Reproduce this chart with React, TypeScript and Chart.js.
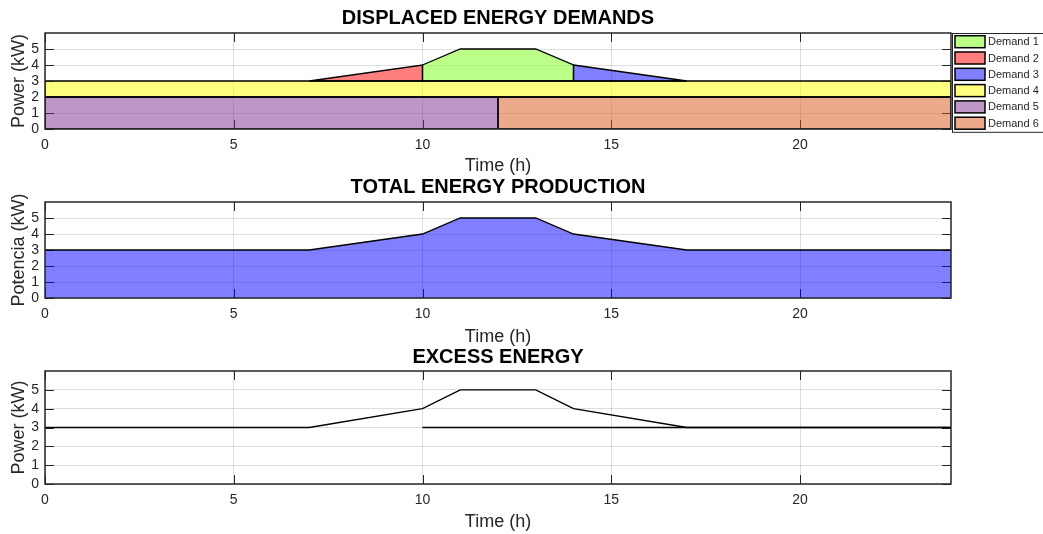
import { useEffect, useRef } from 'react';
import { Chart, registerables } from 'chart.js';

Chart.register(...registerables);

const FONT = '"Liberation Sans", Arial, Helvetica, sans-serif';
const INK = '#262626';
const GRID = 'rgba(0,0,0,0.13)';

// Axis ticks
const hourTicks = [0, 5, 10, 15, 20];
const powerTicks = [0, 1, 2, 3, 4, 5];
const hourRange = [0, 24];
const powerRange = [0, 6];

// Displaced demands: hours and the power (kW) each one adds on top of its stack level
const demandLabels = ['Demand 1', 'Demand 2', 'Demand 3', 'Demand 4', 'Demand 5', 'Demand 6'];
const demand1Hours = [10, 11, 13, 14];
const demand1Power = [1, 2, 2, 1];
const demand2Hours = [7, 10];
const demand2Power = [0, 1];
const demand3Hours = [14, 17];
const demand3Power = [1, 0];
const demand4Hours = [0, 24];
const demand4Power = [1, 1];
const demand5Hours = [0, 12];
const demand5Power = [2, 2];
const demand6Hours = [12, 24];
const demand6Power = [2, 2];
// stack level (kW) under each demand
const demandBase = [3, 3, 3, 2, 0, 0];

// Total production
const productionHours = [0, 7, 10, 11, 13, 14, 17, 24];
const productionPower = [3, 3, 4, 5, 5, 4, 3, 3];

// Excess energy
const excessHours = [0, 7, 10, 11, 13, 14, 17, 24];
const excessPower = [3, 3, 4, 5, 5, 4, 3, 3];
const surplusHours = [10, 24];
const surplusPower = [3, 3];

const demandColors = [
  'rgba(119,255,20,0.5)',
  'rgba(255,0,0,0.5)',
  'rgba(0,0,255,0.5)',
  'rgba(255,255,0,0.5)',
  'rgba(126,47,142,0.5)',
  'rgba(217,83,25,0.5)',
];

type Pt = { x: number; y: number };

// closed outline of one stacked band
function stackedShape(hours: number[], power: number[], base: number): Pt[] {
  const top = hours.map((h, i) => ({ x: h, y: base + power[i] }));
  const first = hours[0];
  const last = hours[hours.length - 1];
  return [...top, { x: last, y: base }, { x: first, y: base }, top[0]];
}

function series(hours: number[], power: number[]): Pt[] {
  return hours.map((h, i) => ({ x: h, y: power[i] }));
}

// box around the plot area with inward tick marks on all four sides
const axesBox = {
  id: 'axesBox',
  beforeDraw(chart: any) {
    const { ctx, chartArea: a, scales } = chart;
    const len = 9;
    ctx.save();
    ctx.strokeStyle = INK;
    ctx.lineWidth = 1;
    ctx.beginPath();
    for (const t of scales.x.ticks) {
      const px = Math.round(scales.x.getPixelForValue(t.value)) + 0.5;
      ctx.moveTo(px, a.bottom);
      ctx.lineTo(px, a.bottom - len);
      ctx.moveTo(px, a.top);
      ctx.lineTo(px, a.top + len);
    }
    for (const t of scales.y.ticks) {
      const py = Math.round(scales.y.getPixelForValue(t.value)) + 0.5;
      ctx.moveTo(a.left, py);
      ctx.lineTo(a.left + len, py);
      ctx.moveTo(a.right, py);
      ctx.lineTo(a.right - len, py);
    }
    ctx.stroke();
    ctx.restore();
  },
  afterDraw(chart: any) {
    const { ctx, chartArea: a } = chart;
    ctx.save();
    ctx.strokeStyle = INK;
    ctx.lineWidth = 1.5;
    ctx.strokeRect(a.left, a.top, a.right - a.left, a.bottom - a.top);
    ctx.restore();
  },
};

// framed legend placed just right of the plot area
const boxLegend = {
  id: 'boxLegend',
  afterDraw(chart: any, _args: any, opts: any) {
    if (!opts || !opts.show) return;
    const { ctx, chartArea: a } = chart;
    const items = chart.data.datasets;
    const left = a.right + 1;
    const top = a.top;
    const rowH = 16.3;
    const h = rowH * items.length + 1;
    ctx.save();
    ctx.fillStyle = '#ffffff';
    ctx.fillRect(left, top, chart.width - left + 20, h);
    ctx.strokeStyle = INK;
    ctx.lineWidth = 1;
    ctx.strokeRect(left + 0.5, top + 0.5, chart.width - left + 20, h);
    ctx.font = `11px ${FONT}`;
    ctx.textBaseline = 'middle';
    ctx.textAlign = 'left';
    items.forEach((ds: any, i: number) => {
      const cy = top + 8.7 + i * rowH;
      ctx.fillStyle = ds.backgroundColor;
      ctx.fillRect(left + 3, cy - 6, 30, 12);
      ctx.strokeStyle = '#000';
      ctx.lineWidth = 1.5;
      ctx.strokeRect(left + 3, cy - 6, 30, 12);
      ctx.fillStyle = INK;
      ctx.fillText(ds.label, left + 36, cy + 0.5);
    });
    ctx.restore();
  },
};

type PanelSpec = {
  title: string;
  yTitle: string;
  height: number;
  titlePad: { top: number; bottom: number };
  axisHeight: number;
  timePadBottom: number;
  legend: boolean;
  datasets: any[];
};

function buildConfig(p: PanelSpec): any {
  return {
    type: 'line',
    data: { datasets: p.datasets },
    plugins: [axesBox, boxLegend],
    options: {
      responsive: false,
      animation: false,
      devicePixelRatio: 1,
      layout: { padding: { left: 0, right: 92, top: 0, bottom: 0 } },
      elements: { point: { radius: 0, hoverRadius: 0 }, line: { tension: 0 } },
      plugins: {
        legend: { display: false },
        tooltip: { enabled: false },
        filler: { drawTime: 'beforeDatasetsDraw' },
        title: {
          display: true,
          text: p.title,
          fullSize: false,
          color: '#000',
          font: { family: FONT, size: 20, weight: 'bold', lineHeight: 1.2 },
          padding: p.titlePad,
        },
        boxLegend: { show: p.legend },
      },
      scales: {
        x: {
          type: 'linear',
          min: hourRange[0],
          max: hourRange[1],
          afterBuildTicks: (s: any) => {
            s.ticks = hourTicks.map((v) => ({ value: v }));
          },
          afterFit: (s: any) => {
            s.height = p.axisHeight;
          },
          grid: { color: GRID, drawTicks: false, lineWidth: 1 },
          border: { display: false },
          ticks: {
            padding: 8,
            color: INK,
            maxRotation: 0,
            autoSkip: false,
            font: { family: FONT, size: 14 },
          },
          title: {
            display: true,
            text: 'Time (h)',
            color: INK,
            font: { family: FONT, size: 18, lineHeight: 1.2 },
            padding: { top: 0, bottom: p.timePadBottom },
          },
        },
        y: {
          type: 'linear',
          min: powerRange[0],
          max: powerRange[1],
          afterBuildTicks: (s: any) => {
            s.ticks = powerTicks.map((v) => ({ value: v }));
          },
          afterFit: (s: any) => {
            s.width = 45;
          },
          grid: { color: GRID, drawTicks: false, lineWidth: 1 },
          border: { display: false },
          ticks: {
            padding: 6,
            color: INK,
            autoSkip: false,
            font: { family: FONT, size: 14 },
          },
          title: {
            display: true,
            text: p.yTitle,
            color: INK,
            font: { family: FONT, size: 18, lineHeight: 1.2 },
            padding: { top: 8, bottom: 0 },
          },
        },
      },
    },
  };
}

const demandHours = [demand1Hours, demand2Hours, demand3Hours, demand4Hours, demand5Hours, demand6Hours];
const demandPower = [demand1Power, demand2Power, demand3Power, demand4Power, demand5Power, demand6Power];

const panels: (PanelSpec & { top: number })[] = [
  {
    top: 0,
    title: 'DISPLACED ENERGY DEMANDS',
    yTitle: 'Power (kW)',
    height: 180,
    titlePad: { top: 6, bottom: 3 },
    axisHeight: 51,
    timePadBottom: 3,
    legend: true,
    datasets: demandLabels.map((label, i) => ({
      label,
      data: stackedShape(demandHours[i], demandPower[i], demandBase[i]),
      borderColor: '#000',
      borderWidth: 1.3,
      backgroundColor: demandColors[i],
      fill: 'shape',
    })),
  },
  {
    top: 170,
    title: 'TOTAL ENERGY PRODUCTION',
    yTitle: 'Potencia (kW)',
    height: 180,
    titlePad: { top: 5, bottom: 3 },
    axisHeight: 52,
    timePadBottom: 2,
    legend: false,
    datasets: [
      {
        label: 'Production',
        data: series(productionHours, productionPower),
        borderColor: '#000',
        borderWidth: 1.3,
        backgroundColor: 'rgba(0,0,255,0.5)',
        fill: 'origin',
      },
    ],
  },
  {
    top: 340,
    title: 'EXCESS ENERGY',
    yTitle: 'Power (kW)',
    height: 194,
    titlePad: { top: 5, bottom: 2 },
    axisHeight: 50,
    timePadBottom: 1,
    legend: false,
    datasets: [
      {
        label: 'Excess',
        data: series(excessHours, excessPower),
        borderColor: '#000',
        borderWidth: 1.4,
        fill: false,
      },
      {
        label: 'Surplus',
        data: series(surplusHours, surplusPower),
        borderColor: '#000',
        borderWidth: 1.4,
        fill: false,
      },
    ],
  },
];

function Panel({ spec }: { spec: PanelSpec & { top: number } }) {
  const ref = useRef<HTMLCanvasElement | null>(null);
  useEffect(() => {
    if (!ref.current) return;
    const chart = new Chart(ref.current, buildConfig(spec));
    return () => chart.destroy();
  }, [spec]);
  return (
    <canvas
      ref={ref}
      width={1043}
      height={spec.height}
      style={{ position: 'absolute', left: 0, top: spec.top, width: 1043, height: spec.height, display: 'block' }}
    />
  );
}

export default function App() {
  return (
    <div
      style={{
        position: 'fixed',
        left: 0,
        top: 0,
        width: 1043,
        height: 534,
        overflow: 'hidden',
        background: '#ffffff',
      }}
    >
      {panels.map((p, i) => (
        <Panel key={i} spec={p} />
      ))}
    </div>
  );
}
